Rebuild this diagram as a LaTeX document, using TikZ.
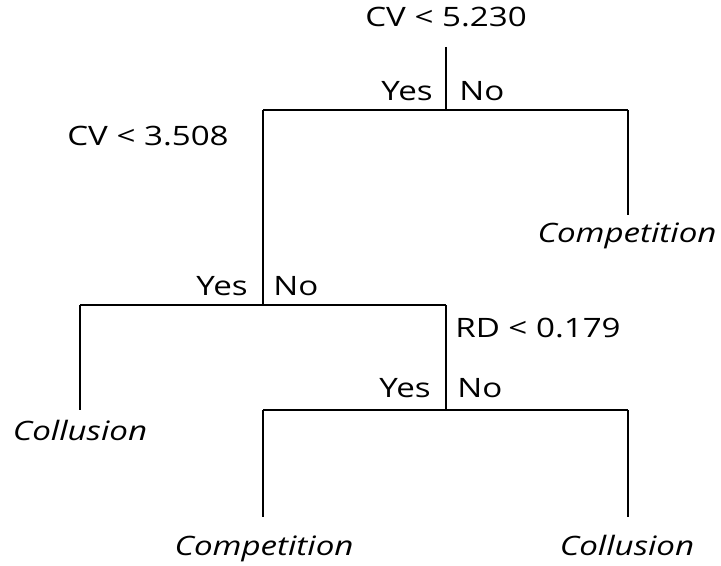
\documentclass[tikz,border=0pt]{standalone}
\usepackage{fontspec}
\setmainfont{Open Sans}
\usetikzlibrary{positioning}
\newcommand{\widetxt}[1]{\scalebox{1.24}[1]{#1}}

\begin{document}
\begin{tikzpicture}[
    x=0.025cm, y=-0.025cm,
    split/.style={font=\fontsize{19}{21}\selectfont, inner sep=0pt, anchor=base},
    leaf/.style={font=\fontsize{19}{21}\selectfont\itshape, inner sep=0pt, anchor=base},
    answer/.style={font=\fontsize{19}{21}\selectfont, inner sep=0pt},
    branch/.style={line width=1.4pt, draw=black}
]
\useasboundingbox (0,0) rectangle (721,565);

% split points
\coordinate (rootTop) at (446,47);
\coordinate (rootFork) at (446,110);
\coordinate (leftFork) at (263,110);
\coordinate (rightFork) at (628,110);
\coordinate (cvFork) at (263,305);
\coordinate (cvLeft) at (80,305);
\coordinate (cvRight) at (446,305);
\coordinate (rdFork) at (446,410);
\coordinate (rdLeft) at (263,410);
\coordinate (rdRight) at (628,410);
\coordinate (compTop) at (628,215);
\coordinate (collTop) at (80,410);
\coordinate (compBot) at (263,517);
\coordinate (collBot) at (628,517);

% labels
\node (root) [split] at (446,27) {\widetxt{CV < 5.230}};
\node (cvSplit) [split] at (148,145) {\widetxt{CV < 3.508}};
\node (rdSplit) [split, anchor=base west] at (455,337) {\widetxt{RD < 0.179}};

\node (yesA) [answer, anchor=base east] at (433,100) {\widetxt{Yes}};
\node (noA) [answer, anchor=base west] at (459,100) {\widetxt{No}};
\node (yesB) [answer, anchor=base east] at (248,295) {\widetxt{Yes}};
\node (noB) [answer, anchor=base west] at (273,295) {\widetxt{No}};
\node (yesC) [answer, anchor=base east] at (431,397) {\widetxt{Yes}};
\node (noC) [answer, anchor=base west] at (457,397) {\widetxt{No}};

\node (compA) [leaf] at (627,242) {\widetxt{Competition}};
\node (collA) [leaf] at (80,440) {\widetxt{Collusion}};
\node (compB) [leaf] at (264,555) {\widetxt{Competition}};
\node (collB) [leaf] at (627,555) {\widetxt{Collusion}};

% tree
\draw [branch] (rootTop) -- (rootFork);
\draw [branch] (leftFork) -- (rightFork);
\draw [branch] (rightFork) -- (compTop);
\draw [branch] (leftFork) -- (cvFork);
\draw [branch] (cvLeft) -- (cvRight);
\draw [branch] (cvLeft) -- (collTop);
\draw [branch] (cvRight) -- (rdFork);
\draw [branch] (rdLeft) -- (rdRight);
\draw [branch] (rdLeft) -- (compBot);
\draw [branch] (rdRight) -- (collBot);

\end{tikzpicture}
\end{document}
